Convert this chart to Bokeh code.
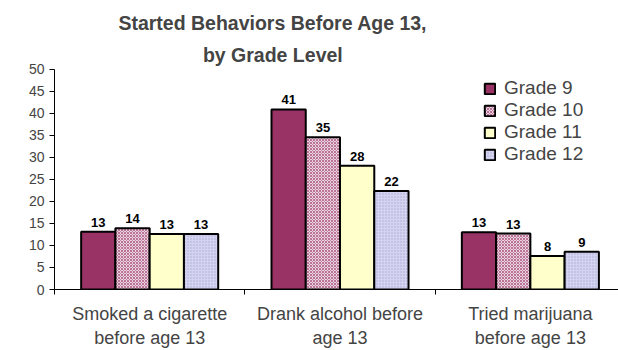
from bokeh.plotting import figure
from bokeh.models import (ColumnDataSource, Range1d, LinearAxis, FixedTicker, Label,
                          Legend, LegendItem)
from bokeh.transform import dodge
from bokeh.core.properties import value
from bokeh.embed import file_html
from bokeh.resources import INLINE

categories = ["Smoked a cigarette\nbefore age 13", "Drank alcohol before\nage 13", "Tried marijuana\nbefore age 13"]
series_names = ["Grade 9", "Grade 10", "Grade 11", "Grade 12"]
grade9 = [13.1, 40.9, 13.0]
grade10 = [13.9, 34.6, 12.7]
grade11 = [12.6, 28.1, 7.6]
grade12 = [12.6, 22.4, 8.6]
y_ticks = [0, 5, 10, 15, 20, 25, 30, 35, 40, 45, 50]
title_lines = ["Started Behaviors Before Age 13,", "by Grade Level"]

FONT = "Liberation Sans"
series = [grade9, grade10, grade11, grade12]
styles = [
    dict(fill_color="#993366"),
    dict(fill_color="#ead3df", hatch_pattern="x", hatch_color="#993366", hatch_scale=3, hatch_weight=1, hatch_alpha=0.6),
    dict(fill_color="#ffffcc"),
    dict(fill_color="#d4d4f2", hatch_pattern=".", hatch_color="#8c8cb8", hatch_scale=3, hatch_weight=1, hatch_alpha=0.6),
]

xc = [i + 0.5 for i in range(len(categories))]
bounds_x = list(range(len(categories) + 1))
bw = 0.18
offsets = [(-1.5 + k) * bw for k in range(len(series))]

p = figure(width=618, height=350, output_backend="svg", toolbar_location=None,
           x_range=Range1d(0, 2.963), y_range=Range1d(0, 65.66),
           min_border_left=54, min_border_right=0, min_border_top=0, min_border_bottom=60,
           x_axis_type=None, y_axis_type=None)
p.title.visible = False
p.outline_line_color = None
p.xgrid.visible = False
p.ygrid.visible = False
p.background_fill_color = "white"

items = []
for name, vals, st, off in zip(series_names, series, styles, offsets):
    src = ColumnDataSource(dict(x=xc, v=vals, lbl=["%.0f" % v for v in vals]))
    r = p.vbar(x=dodge("x", off, range=p.x_range), top="v", width=bw, bottom=0, source=src,
               line_color="black", line_width=2, **st)
    p.text(x=dodge("x", off, range=p.x_range), y="v", text="lbl", source=src,
           text_align="center", text_baseline="bottom", y_offset=-5,
           text_font=value(FONT), text_font_style="bold", text_font_size="13px", text_color="black")
    items.append(LegendItem(label=name, renderers=[r]))

# y axis
yax = LinearAxis(ticker=FixedTicker(ticks=y_ticks), bounds=(0, 50))
yax.axis_line_color = "black"
yax.major_tick_line_color = "black"
yax.major_tick_out = 5
yax.major_tick_in = 0
yax.minor_tick_line_color = None
yax.major_label_text_font = FONT
yax.major_label_text_font_size = "14px"
yax.major_label_standoff = 5
p.add_layout(yax, "left")

# x axis: category labels at centres, boundary ticks as minor ticks
xax = LinearAxis(ticker=FixedTicker(ticks=xc, minor_ticks=bounds_x),
                 major_label_overrides={c: t for c, t in zip(xc, categories)})
xax.axis_line_color = "black"
xax.major_tick_line_color = None
xax.major_tick_out = 0
xax.major_tick_in = 0
xax.minor_tick_line_color = "black"
xax.minor_tick_out = 5
xax.minor_tick_in = 0
xax.major_label_text_font = FONT
xax.major_label_text_font_size = "18px"
xax.major_label_standoff = 9
p.add_layout(xax, "below")

legend = Legend(items=items, location=(429, 124), padding=0, margin=0, spacing=0,
                glyph_width=13, glyph_height=13, label_height=20, label_standoff=8,
                label_text_font=FONT, label_text_font_size="19px",
                border_line_color=None, background_fill_alpha=0)
p.add_layout(legend, "center")

for txt, ty in zip(title_lines, [60.6, 53.2]):
    p.add_layout(Label(x=1.147, y=ty, text=txt, text_align="center", text_baseline="middle",
                       text_font=FONT, text_font_style="bold", text_font_size="19.5px"))

open("out.html", "w").write(file_html(p, INLINE))
